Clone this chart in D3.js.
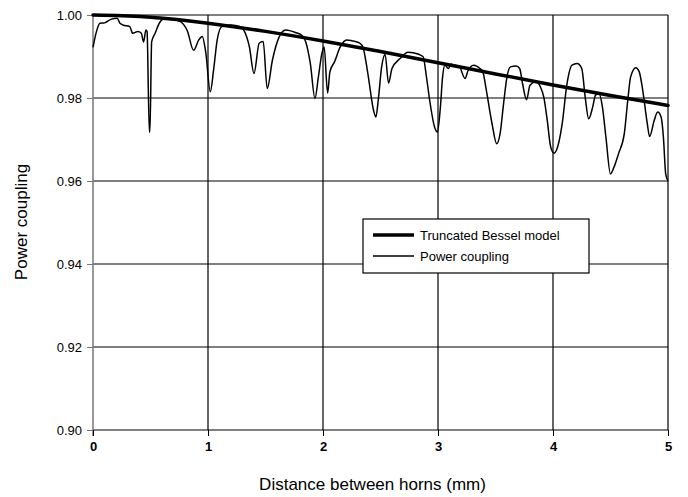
<!DOCTYPE html>
<html>
<head>
<meta charset="utf-8">
<script src="https://cdn.jsdelivr.net/npm/d3@7"></script>
<style>
  body { margin: 0; background: #fff; }
  svg text { font-family: "Liberation Sans", Arial, sans-serif; fill: #000; }
</style>
</head>
<body>
<svg id="chart" width="688" height="497"></svg>
<script>
var couplingX = [0.00, 0.03, 0.06, 0.10, 0.16, 0.21, 0.235, 0.26, 0.32, 0.345, 0.39, 0.42, 0.44, 0.46, 0.47, 0.49, 0.495,
  0.51, 0.54, 0.58, 0.61, 0.68, 0.76, 0.82, 0.875, 0.92, 0.95, 0.98, 1.02, 1.05, 1.08, 1.12, 1.20, 1.28, 1.31, 1.36,
  1.40, 1.445, 1.48, 1.515, 1.56, 1.62, 1.675, 1.76, 1.82, 1.85, 1.89, 1.93, 1.96, 1.99, 2.01, 2.04, 2.06, 2.10, 2.15,
  2.205, 2.25, 2.32, 2.35, 2.39, 2.44, 2.46, 2.48, 2.51, 2.54, 2.57, 2.60, 2.67, 2.74, 2.785, 2.87, 2.90, 2.93, 2.97,
  2.995, 3.02, 3.04, 3.06, 3.09, 3.115, 3.13, 3.18, 3.235, 3.26, 3.31, 3.365, 3.39, 3.42, 3.47, 3.51, 3.54, 3.57, 3.60,
  3.63, 3.68, 3.71, 3.735, 3.77, 3.80, 3.85, 3.89, 3.92, 3.95, 3.98, 4.01, 4.03, 4.08, 4.12, 4.165, 4.21, 4.25, 4.28,
  4.31, 4.345, 4.37, 4.40, 4.43, 4.46, 4.50, 4.53, 4.57, 4.62, 4.65, 4.675, 4.72, 4.75, 4.78, 4.82, 4.84, 4.88, 4.91,
  4.94, 4.96, 4.98, 5.00];
var couplingY = [0.9922, 0.9960, 0.9980, 0.9981, 0.9990, 0.9992, 0.9980, 0.9976, 0.9972, 0.9956, 0.9960, 0.9956, 0.9935, 0.9964, 0.9960, 0.9718, 0.9718,
  0.9935, 0.9956, 0.9982, 0.9990, 0.9990, 0.9984, 0.9962, 0.9915, 0.9940, 0.9948, 0.9911, 0.9815, 0.9871, 0.9940, 0.9972, 0.9976, 0.9972, 0.9964, 0.9923,
  0.9859, 0.9932, 0.9936, 0.9823, 0.9891, 0.9948, 0.9964, 0.9958, 0.9950, 0.9935, 0.9883, 0.9799, 0.9851, 0.9907, 0.9923, 0.9812, 0.9863, 0.9887, 0.9923,
  0.9940, 0.9938, 0.9932, 0.9920, 0.9859, 0.9770, 0.9754, 0.9794, 0.9875, 0.9905, 0.9836, 0.9871, 0.9895, 0.9910, 0.9909, 0.9900, 0.9850, 0.9790, 0.9730,
  0.9718, 0.9775, 0.9851, 0.9879, 0.9871, 0.9882, 0.9879, 0.9878, 0.9847, 0.9865, 0.9879, 0.9871, 0.9863, 0.9819, 0.9738, 0.9690, 0.9714, 0.9786, 0.9851,
  0.9875, 0.9877, 0.9871, 0.9835, 0.9796, 0.9831, 0.9839, 0.9827, 0.9802, 0.9746, 0.9682, 0.9667, 0.9674, 0.9738, 0.9831, 0.9879, 0.9883, 0.9871, 0.9802,
  0.9750, 0.9778, 0.9807, 0.9811, 0.9778, 0.9706, 0.9617, 0.9633, 0.9666, 0.9714, 0.9794, 0.9851, 0.9873, 0.9863, 0.9819, 0.9738, 0.9707, 0.9746, 0.9766,
  0.9754, 0.9706, 0.9617, 0.9600];

// truncated Bessel model
var besselX = [0, 0.5, 1, 1.5, 2, 2.5, 3, 3.5, 4, 4.5, 5];
var besselY = [1.0000, 0.9997, 0.9981, 0.9961, 0.9938, 0.9912, 0.9885, 0.9858, 0.9831, 0.9806, 0.9782];

var xTicks = [0, 1, 2, 3, 4, 5];
var yTicks = [0.90, 0.92, 0.94, 0.96, 0.98, 1.00];
var seriesNames = ['Truncated Bessel model', 'Power coupling'];

var margin = { top: 15, right: 20, bottom: 67, left: 93 };
var svg = d3.select('#chart');
var W = 688 - margin.left - margin.right;
var H = 497 - margin.top - margin.bottom;
var g = svg.append('g').attr('transform', 'translate(' + margin.left + ',' + margin.top + ')');

var x = d3.scaleLinear().domain([0, 5]).range([0, W]);
var y = d3.scaleLinear().domain([0.90, 1.00]).range([H, 0]);

// grid
g.selectAll('.vgrid').data(xTicks.slice(1))
  .enter().append('line')
    .attr('x1', d => x(d)).attr('x2', d => x(d))
    .attr('y1', 0).attr('y2', H)
    .attr('stroke', '#000').attr('stroke-width', 1.2);
g.selectAll('.hgrid').data(yTicks)
  .enter().append('line')
    .attr('x1', 0).attr('x2', W)
    .attr('y1', d => y(d)).attr('y2', d => y(d))
    .attr('stroke', '#000').attr('stroke-width', 1.2);

// left axis (grey like the original)
g.append('line')
  .attr('x1', 0).attr('x2', 0).attr('y1', 0).attr('y2', H + 6)
  .attr('stroke', '#777').attr('stroke-width', 1.5);

var yAxis = g.append('g')
  .call(d3.axisLeft(y).tickValues(yTicks).tickFormat(d3.format('.2f')).tickSize(6).tickPadding(5));
yAxis.select('.domain').remove();
yAxis.selectAll('line').attr('stroke', '#777');
yAxis.selectAll('text').attr('font-size', 13);

var xAxis = g.append('g')
  .attr('transform', 'translate(0,' + H + ')')
  .call(d3.axisBottom(x).tickValues(xTicks).tickFormat(d3.format('d')).tickSize(6).tickPadding(6));
xAxis.select('.domain').remove();
xAxis.selectAll('line').attr('stroke', '#000');
xAxis.selectAll('text').attr('font-size', 13).attr('font-weight', 'bold');

// axis titles
svg.append('text')
  .attr('x', margin.left + W / 2 - 8).attr('y', 490)
  .attr('text-anchor', 'middle').attr('font-size', 17)
  .text('Distance between horns (mm)');
svg.append('text')
  .attr('transform', 'translate(27,' + (margin.top + 207) + ') rotate(-90)')
  .attr('text-anchor', 'middle').attr('font-size', 17)
  .text('Power coupling');

// lines
var coupling = couplingX.map((d, i) => [d, couplingY[i]]);
var bessel = besselX.map((d, i) => [d, besselY[i]]);

var line = d3.line()
  .x(d => x(d[0]))
  .y(d => y(d[1]))
  .curve(d3.curveMonotoneX);

g.append('path')
  .datum(coupling)
  .attr('d', line)
  .attr('fill', 'none').attr('stroke', '#000').attr('stroke-width', 1.5)
  .attr('stroke-linejoin', 'round');

g.append('path')
  .datum(bessel)
  .attr('d', line.curve(d3.curveBasis))
  .attr('fill', 'none').attr('stroke', '#000').attr('stroke-width', 3.5)
  .attr('stroke-linecap', 'round');

// legend
var legend = svg.append('g').attr('transform', 'translate(363,219)');
legend.append('rect')
  .attr('width', 226).attr('height', 54)
  .attr('fill', '#fff').attr('stroke', '#000').attr('stroke-width', 1.2);
var widths = [3.5, 1.5];
seriesNames.forEach((name, i) => {
  var ly = 16 + i * 21;
  legend.append('line')
    .attr('x1', 10).attr('x2', 51).attr('y1', ly).attr('y2', ly)
    .attr('stroke', '#000').attr('stroke-width', widths[i]);
  legend.append('text')
    .attr('x', 57).attr('y', ly + 4.5)
    .attr('font-size', 13)
    .text(name);
});
</script>
</body>
</html>
